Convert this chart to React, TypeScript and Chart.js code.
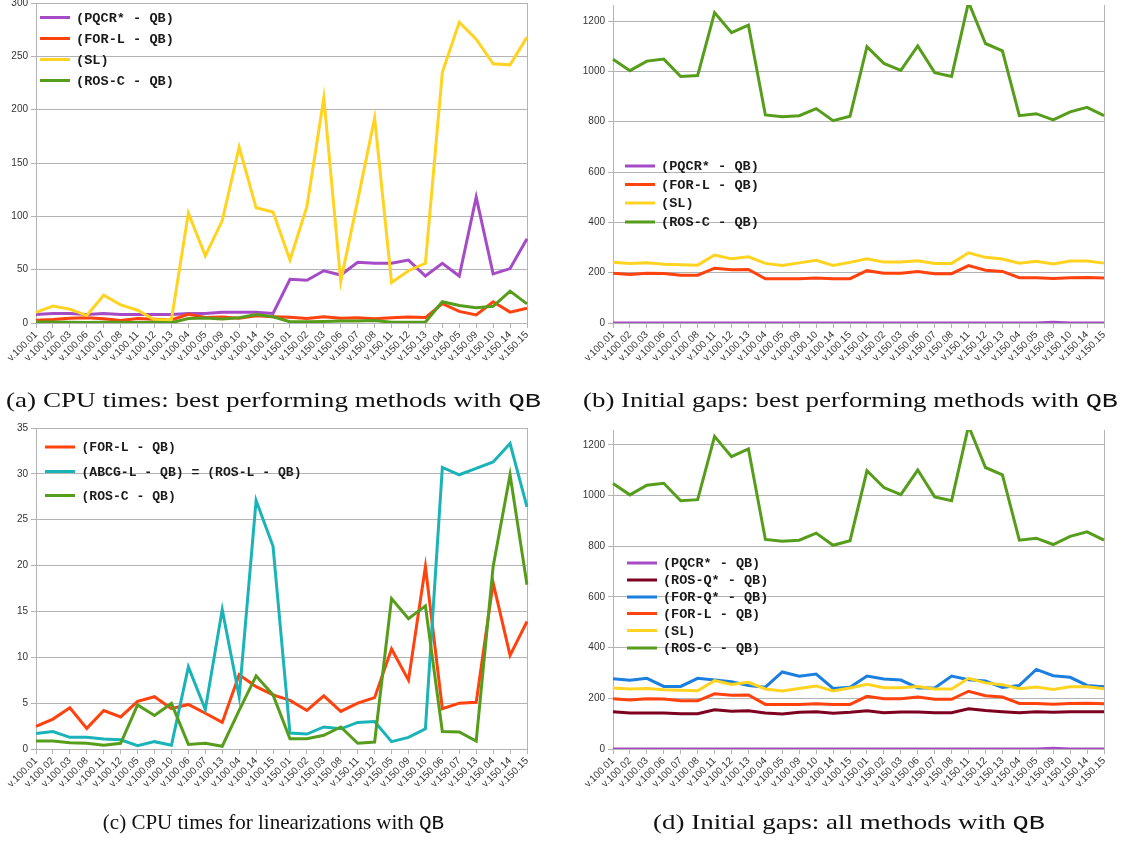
import React, { useEffect, useRef } from "react";
import { Chart, registerables } from "chart.js";
Chart.register(...registerables);

// ---------- categories ----------
const labelsA = ["v.100.01","v.100.02","v.100.03","v.100.06","v.100.07","v.100.08","v.100.11","v.100.12","v.100.13","v.100.04","v.100.05","v.100.09","v.100.10","v.100.14","v.100.15","v.150.01","v.150.02","v.150.03","v.150.06","v.150.07","v.150.08","v.150.11","v.150.12","v.150.13","v.150.04","v.150.05","v.150.09","v.150.10","v.150.14","v.150.15"];
const labelsC = ["v.100.01","v.100.02","v.100.03","v.100.08","v.100.11","v.100.12","v.100.05","v.100.09","v.100.10","v.100.06","v.100.07","v.100.13","v.100.04","v.100.14","v.100.15","v.150.01","v.150.02","v.150.03","v.150.08","v.150.11","v.150.12","v.150.05","v.150.09","v.150.10","v.150.06","v.150.07","v.150.13","v.150.04","v.150.14","v.150.15"];

// ---------- CPU times (order of labelsA) ----------
const cpuPqcr = [8,9,9,8,9,8,8,8,8,9,9,10,10,10,9,41,40,49,45,57,56,56,59,44,56,44,118,46,51,79];
const cpuSl = [10,16,13,7,26,17,12,3,3,103,63,96,165,108,104,59,109,211,39,115,192,38,49,56,235,282,266,243,242,268];

// ---------- CPU times for linearizations (order of labelsC) ----------
const cpuForL = [2.47,3.26,4.5,2.25,4.2,3.5,5.2,5.7,4.4,4.86,3.9,2.9,8.1,6.8,5.9,5.3,4.2,5.8,4.1,5.0,5.6,10.9,7.5,19.9,4.4,5.0,5.1,18.1,10.2,13.9];
const cpuAbcgL = [1.7,1.9,1.27,1.27,1.1,1.0,0.36,0.8,0.4,8.96,4.3,15.2,5.7,27.1,22.1,1.74,1.63,2.4,2.2,2.9,3.0,0.8,1.27,2.2,30.7,29.9,30.6,31.3,33.3,26.4];
const cpuRosC = [0.87,0.87,0.69,0.62,0.4,0.62,4.8,3.66,4.97,0.5,0.62,0.3,4.2,7.98,5.9,1.12,1.12,1.5,2.4,0.62,0.76,16.4,14.2,15.6,1.9,1.85,0.87,19.9,29.9,17.9];

// ---------- Initial gaps (order of labelsA) ----------
const gapPqcr = [0,0,0,0,0,0,0,0,0,0,0,0,0,0,0,0,0,0,0,0,0,0,0,0,0,0,3,0,0,0];
const gapRosQ = [147,142,142,142,139,139,155,149,151,142,138,145,147,141,145,151,143,146,146,143,143,159,152,147,143,147,145,147,147,147];
const gapForQ = [277,271,279,247,247,279,272,265,251,244,304,287,296,239,244,288,276,272,241,241,288,273,268,243,251,314,289,283,251,246];
const gapForL = [198,193,198,197,190,190,218,212,213,176,176,176,179,176,176,208,198,198,205,196,196,228,210,205,180,180,177,180,181,179];
const gapSl = [241,237,239,234,232,230,270,255,263,237,229,239,249,229,241,255,242,242,247,237,237,279,261,254,238,245,235,246,246,238];
const gapRosC = [1048,1003,1041,1049,980,984,1234,1154,1184,827,820,824,852,804,822,1098,1032,1004,1101,995,980,1275,1111,1082,824,832,807,839,857,824];

// ---------- y tick settings ----------
const yStepA = 50, yMaxA = 300;
const yStepB = 200, yMaxB = 1264;
const yStepC = 5, yMaxC = 35;
const yStepD = 200, yMaxD = 1259;

// ---------- colours ----------
const PURPLE = "#a64bc6";
const ORANGE = "#ff420e";
const YELLOW = "#ffd320";
const GREEN = "#579d1c";
const DARKRED = "#7e0021";
const BLUE = "#1b7fe0";
const TEAL = "#1ab3b8";

const reorder = (vals: number[], from: string[], to: string[]) =>
  to.map((l) => vals[from.indexOf(l)]);

type Series = { label: string; data: number[]; color: string };
type Legend = { x1: number; x2: number; tx: number; ys: number[]; size: number };
type Panel = {
  left: number; top: number; width: number; height: number;
  padTop: number; padRight: number; yWidth: number; xHeight: number;
  yMax: number; yStep: number; labels: string[]; series: Series[]; legend: Legend;
};

const GRID = "#b3b3b3";

function ChartPanel({ p }: { p: Panel }) {
  const ref = useRef<HTMLCanvasElement>(null);
  useEffect(() => {
    if (!ref.current) return;
    const n = p.series.length;
    const legendPlugin = {
      id: "customLegend",
      afterDraw(chart: any) {
        const ctx = chart.ctx;
        ctx.save();
        p.series.forEach((s, i) => {
          const y = p.legend.ys[i];
          ctx.strokeStyle = s.color;
          ctx.lineWidth = 3;
          ctx.lineCap = "butt";
          ctx.beginPath();
          ctx.moveTo(p.legend.x1, y);
          ctx.lineTo(p.legend.x2, y);
          ctx.stroke();
          ctx.fillStyle = "#1a1a1a";
          ctx.font = `bold ${p.legend.size}px "Liberation Mono"`;
          ctx.textBaseline = "middle";
          ctx.textAlign = "left";
          ctx.fillText(s.label, p.legend.tx, y + 1);
        });
        ctx.restore();
      },
    };
    const framePlugin = {
      id: "frameRight",
      beforeDatasetsDraw(chart: any) {
        const { ctx, chartArea } = chart;
        ctx.save();
        ctx.strokeStyle = GRID;
        ctx.lineWidth = 1;
        ctx.beginPath();
        ctx.moveTo(Math.round(chartArea.right) + 0.5, chartArea.top);
        ctx.lineTo(Math.round(chartArea.right) + 0.5, chartArea.bottom);
        ctx.stroke();
        ctx.restore();
      },
    };
    const chart = new Chart(ref.current, {
      type: "line",
      data: {
        labels: p.labels,
        datasets: p.series.map((s, i) => ({
          label: s.label,
          data: s.data,
          borderColor: s.color,
          backgroundColor: s.color,
          borderWidth: 3,
          pointRadius: 0,
          tension: 0,
          fill: false,
          order: n - i,
        })),
      },
      options: {
        responsive: false,
        animation: false,
        devicePixelRatio: 1,
        layout: { padding: { top: p.padTop, right: p.padRight, left: 0, bottom: 0 } },
        plugins: { legend: { display: false }, tooltip: { enabled: false } },
        scales: {
          x: {
            type: "category",
            offset: false,
            grid: { display: true, drawOnChartArea: false, drawTicks: true, tickLength: 5, color: GRID },
            border: { display: true, color: GRID },
            ticks: {
              autoSkip: false,
              maxRotation: 45,
              minRotation: 45,
              color: "#333",
              padding: 1,
              font: { family: "Liberation Sans", size: 10 },
            },
            afterFit: (s: any) => {
              s.height = p.xHeight;
              s.paddingLeft = 0;
              s.paddingRight = 0;
            },
          },
          y: {
            min: 0,
            max: p.yMax,
            grid: { color: GRID, tickLength: 5, drawTicks: true },
            border: { display: true, color: GRID },
            ticks: {
              stepSize: p.yStep,
              color: "#333",
              padding: 3,
              font: { family: "Liberation Sans", size: 10 },
              callback: (v: any) => String(v),
            },
            afterBuildTicks: (s: any) => {
              s.ticks = s.ticks.filter(
                (t: any) => Math.abs(t.value / p.yStep - Math.round(t.value / p.yStep)) < 1e-6
              );
            },
            afterFit: (s: any) => {
              s.width = p.yWidth;
              s.paddingTop = 0;
              s.paddingBottom = 0;
            },
          },
        },
      },
      plugins: [framePlugin, legendPlugin],
    } as any);
    return () => chart.destroy();
  }, [p]);
  return (
    <canvas
      ref={ref}
      width={p.width}
      height={p.height}
      style={{ position: "absolute", left: p.left, top: p.top, width: p.width, height: p.height }}
    />
  );
}

const panelA: Panel = {
  left: 0, top: 0, width: 540, height: 390, padTop: 3, padRight: 13, yWidth: 36, xHeight: 67,
  yMax: yMaxA, yStep: yStepA, labels: labelsA,
  series: [
    { label: "(PQCR* - QB)", data: cpuPqcr, color: PURPLE },
    { label: "(FOR-L - QB)", data: reorder(cpuForL, labelsC, labelsA), color: ORANGE },
    { label: "(SL)", data: cpuSl, color: YELLOW },
    { label: "(ROS-C - QB)", data: reorder(cpuRosC, labelsC, labelsA), color: GREEN },
  ],
  legend: { x1: 40, x2: 70, tx: 76, ys: [17.5, 38.5, 59.5, 80.5], size: 13.6 },
};

const panelB: Panel = {
  left: 560, top: 0, width: 560, height: 390, padTop: 5, padRight: 16, yWidth: 53, xHeight: 67,
  yMax: yMaxB, yStep: yStepB, labels: labelsA,
  series: [
    { label: "(PQCR* - QB)", data: gapPqcr, color: PURPLE },
    { label: "(FOR-L - QB)", data: gapForL, color: ORANGE },
    { label: "(SL)", data: gapSl, color: YELLOW },
    { label: "(ROS-C - QB)", data: gapRosC, color: GREEN },
  ],
  legend: { x1: 65, x2: 95, tx: 101, ys: [166, 184.5, 203, 222], size: 13.6 },
};

const panelC: Panel = {
  left: 0, top: 420, width: 540, height: 390, padTop: 8, padRight: 13, yWidth: 36, xHeight: 61,
  yMax: yMaxC, yStep: yStepC, labels: labelsC,
  series: [
    { label: "(FOR-L - QB)", data: cpuForL, color: ORANGE },
    { label: "(ABCG-L - QB) = (ROS-L - QB)", data: cpuAbcgL, color: TEAL },
    { label: "(ROS-C - QB)", data: cpuRosC, color: GREEN },
  ],
  legend: { x1: 45, x2: 75, tx: 81.5, ys: [27, 51.5, 75.5], size: 13.1 },
};

const panelD: Panel = {
  left: 560, top: 420, width: 560, height: 390, padTop: 10, padRight: 16, yWidth: 53, xHeight: 61,
  yMax: yMaxD, yStep: yStepD, labels: labelsA,
  series: [
    { label: "(PQCR* - QB)", data: gapPqcr, color: PURPLE },
    { label: "(ROS-Q* - QB)", data: gapRosQ, color: DARKRED },
    { label: "(FOR-Q* - QB)", data: gapForQ, color: BLUE },
    { label: "(FOR-L - QB)", data: gapForL, color: ORANGE },
    { label: "(SL)", data: gapSl, color: YELLOW },
    { label: "(ROS-C - QB)", data: gapRosC, color: GREEN },
  ],
  legend: { x1: 67, x2: 97, tx: 103, ys: [143, 160, 177, 193.5, 210.5, 228], size: 13.5 },
};

const captionStyle = { fontFamily: "'Liberation Serif', serif", fontSize: 21, fill: "#111" } as const;
const ttStyle = { fontFamily: "'Liberation Mono', monospace" } as const;

export default function App() {
  return (
    <div style={{ position: "absolute", left: 0, top: 0, width: 1125, height: 844, background: "#fff", overflow: "hidden" }}>
      <ChartPanel p={panelA} />
      <ChartPanel p={panelB} />
      <ChartPanel p={panelC} />
      <ChartPanel p={panelD} />
      <svg width={1125} height={844} style={{ position: "absolute", left: 0, top: 0, pointerEvents: "none" }}>
        <text x={273.5} y={407} textAnchor="middle" textLength={535} lengthAdjust="spacingAndGlyphs" style={captionStyle}>
          (a) CPU times: best performing methods with <tspan style={ttStyle}>QB</tspan>
        </text>
        <text x={850.5} y={407} textAnchor="middle" textLength={535} lengthAdjust="spacingAndGlyphs" style={captionStyle}>
          (b) Initial gaps: best performing methods with <tspan style={ttStyle}>QB</tspan>
        </text>
        <text x={273.5} y={829} textAnchor="middle" style={captionStyle}>
          (c) CPU times for linearizations with <tspan style={ttStyle}>QB</tspan>
        </text>
        <text x={849} y={829} textAnchor="middle" textLength={392} lengthAdjust="spacingAndGlyphs" style={captionStyle}>
          (d) Initial gaps: all methods with <tspan style={ttStyle}>QB</tspan>
        </text>
      </svg>
    </div>
  );
}
